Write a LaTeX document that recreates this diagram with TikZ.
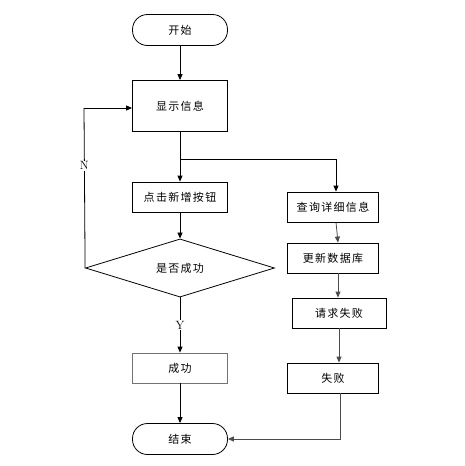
\documentclass[tikz,border=0pt]{standalone}
\usepackage{fontspec}
\newfontfamily\cjk[LetterSpace=12]{Noto Sans CJK SC}
\usetikzlibrary{shapes.geometric, arrows.meta}

\begin{document}
\begin{tikzpicture}[x=1pt, y=-1pt, font=\cjk\fontsize{11}{13}\selectfont,
    box/.style={draw, thick, inner sep=0, minimum width=95pt, minimum height=30pt},
    term/.style={box, rounded corners=15pt, minimum height=31pt},
    tag/.style={fill=white, inner sep=1pt, font=\rmfamily\fontsize{12}{14}\selectfont},
    link/.style={thick, -{Triangle[length=6pt, width=5pt]}}]
  \useasboundingbox (0,0) rectangle (464,466);
  % left column
  \node[term] (start) at (180,30) {开始};
  \node[box, minimum height=51pt] (show) at (180,106) {显示信息};
  \node[box] (add) at (180,197) {点击新增按钮};
  \node[draw, thick, diamond, inner sep=0, minimum width=189pt, minimum height=50pt] (ask) at (180,268) {是否成功};
  \node[box, draw=black!55] (ok) at (180,368) {成功};
  \node[term] (stop) at (180,439) {结束};
  % right column
  \node[box, minimum width=91pt] (query) at (333,207) {查询详细信息};
  \node[box, minimum width=91pt] (update) at (333,258) {更新数据库};
  \node[box, minimum width=94pt] (req) at (339,313) {请求失败};
  \node[box, minimum width=91pt] (fail) at (333,378) {失败};
  \coordinate (fork) at (180,159);
  \coordinate (back) at (84,108);
  \coordinate (join) at (340,439);

  \draw[link] (start) -- (show);
  \draw[thick] (show) -- (fork);
  \draw[link] (fork) -- (add);
  \draw[link] (fork) -| ([xshift=3pt]query.north);
  \draw[link] (add) -- (ask);
  \draw[thick] (ask.west) -- node[pos=0.64, tag] {N} (back);
  \draw[link] (back) -- (show.west |- back);
  \draw[link] (ask) -- node[tag] {Y} (ok);
  \draw[link] (ok) -- (stop);
  \draw[link, draw=black!70] ([xshift=3pt]query.south) -- ([xshift=5pt]update.north);
  \draw[link, draw=black!70] ([xshift=5pt]update.south) -- ([xshift=-1pt]req.north);
  \draw[link, draw=black!70] (req) -- ([xshift=6pt]fail.north);
  \draw[link, draw=black!70] (fail.south -| join) -- (join) -- (stop.east);
\end{tikzpicture}
\end{document}
